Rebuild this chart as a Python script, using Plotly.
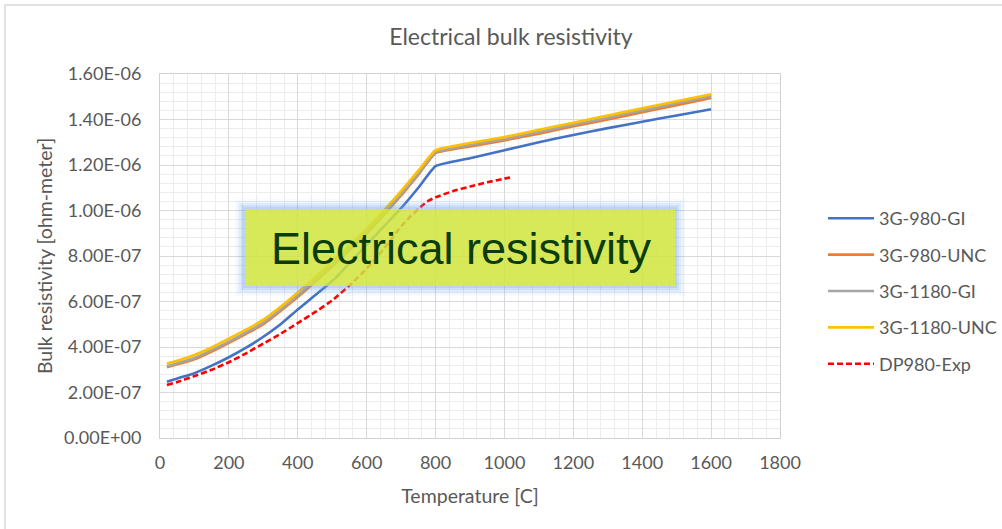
import numpy as np
import plotly.graph_objects as go

# ---------------- data (resistivity in micro-ohm-meter, converted below) ----------------
temp_main = [20, 50, 100, 150, 200, 250, 300, 350, 400, 450, 500, 550, 600, 650, 700, 750, 800,
             900, 1000, 1100, 1200, 1300, 1400, 1500, 1600]
g980_gi = [0.247, 0.262, 0.285, 0.318, 0.355, 0.397, 0.445, 0.500, 0.565, 0.627, 0.690, 0.768, 0.850, 0.930, 1.010, 1.100, 1.195,
           1.230, 1.265, 1.300, 1.332, 1.362, 1.390, 1.418, 1.445]
g980_unc = [0.311, 0.324, 0.346, 0.380, 0.418, 0.458, 0.500, 0.558, 0.620, 0.686, 0.755, 0.826, 0.900, 0.981, 1.066, 1.158, 1.252,
            1.282, 1.308, 1.338, 1.370, 1.400, 1.432, 1.463, 1.495]
g1180_gi = [0.315, 0.329, 0.352, 0.386, 0.424, 0.464, 0.507, 0.565, 0.627, 0.693, 0.762, 0.832, 0.907, 0.988, 1.072, 1.163, 1.256,
            1.288, 1.314, 1.345, 1.377, 1.408, 1.440, 1.471, 1.502]
g1180_unc = [0.327, 0.340, 0.365, 0.398, 0.437, 0.476, 0.520, 0.577, 0.640, 0.705, 0.775, 0.845, 0.920, 1.000, 1.085, 1.175, 1.265,
             1.297, 1.323, 1.355, 1.386, 1.418, 1.449, 1.480, 1.511]
temp_exp = [20, 50, 100, 150, 200, 250, 300, 350, 400, 450, 500, 550, 600, 650, 700, 730, 760, 780, 800,
            850, 900, 950, 1000, 1025]
dp980_exp = [0.233, 0.246, 0.272, 0.300, 0.333, 0.372, 0.415, 0.458, 0.505, 0.553, 0.605, 0.670, 0.745, 0.832, 0.930, 0.978,
             1.020, 1.043, 1.058, 1.085, 1.105, 1.124, 1.140, 1.148]

series_names = ["3G-980-GI", "3G-980-UNC", "3G-1180-GI", "3G-1180-UNC", "DP980-Exp"]
series_colors = ["#4472C4", "#ED7D31", "#A5A5A5", "#FFC000", "#FF0000"]

x_ticks = [0, 200, 400, 600, 800, 1000, 1200, 1400, 1600, 1800]
y_ticks = [0.0, 0.2e-6, 0.4e-6, 0.6e-6, 0.8e-6, 1.0e-6, 1.2e-6, 1.4e-6, 1.6e-6]
y_tick_text = [f"{v:.2E}" for v in y_ticks]

title_text = "Electrical bulk resistivity"
x_title = "Temperature [C]"
y_title = "Bulk resistivity [ohm-meter]"
callout_text = "Electrical resistivity"

SCALE = 1e-6

# ---------------- layout geometry ----------------
W, H = 1002, 529
L, R, T, B = 160, 780, 74, 438   # plot area in pixels


def px_x(p):
    return (p - L) / (R - L)


def px_y(p):
    return (B - p) / (B - T)


FONT = "Lato, 'Open Sans', sans-serif"
TXT = "#595959"

fig = go.Figure()
ys = [g980_gi, g980_unc, g1180_gi, g1180_unc]
for i, yv in enumerate(ys):
    fig.add_trace(go.Scatter(
        x=temp_main, y=np.array(yv) * SCALE, mode="lines",
        name=series_names[i], legendgroup=series_names[i],
        line=dict(color=series_colors[i], width=2.6, shape="spline", smoothing=0.4),
    ))
fig.add_trace(go.Scatter(
    x=temp_exp, y=np.array(dp980_exp) * SCALE, mode="lines",
    name=series_names[4], legendgroup=series_names[4],
    line=dict(color=series_colors[4], width=2.6, dash="6px,3px", shape="spline", smoothing=0.4),
))

shapes = []
# outer chart frame
shapes.append(dict(type="rect", xref="paper", yref="paper",
                   x0=px_x(5), x1=px_x(1010), y0=px_y(540), y1=px_y(5),
                   line=dict(color="#d9d9d9", width=1.5), fillcolor="rgba(0,0,0,0)", layer="below"))

# callout box glow
bx0, bx1, by0, by1 = 245, 675, 209, 286
for k, a in enumerate([0.45, 0.32, 0.2, 0.11, 0.05]):
    d = 1 + 2 * k
    shapes.append(dict(type="rect", xref="paper", yref="paper",
                       x0=px_x(bx0 - d), x1=px_x(bx1 + d), y0=px_y(by1 + d), y1=px_y(by0 - d),
                       line=dict(color=f"rgba(100,160,235,{a})", width=2), fillcolor="rgba(0,0,0,0)"))
shapes.append(dict(type="rect", xref="paper", yref="paper",
                   x0=px_x(bx0), x1=px_x(bx1), y0=px_y(by1), y1=px_y(by0),
                   line=dict(width=0), fillcolor="rgba(208,228,62,0.86)"))

annotations = [
    dict(text=callout_text, xref="paper", yref="paper", x=px_x(461), y=px_y(249),
         xanchor="center", yanchor="middle", showarrow=False,
         font=dict(family="'Liberation Sans', Arial, sans-serif", size=45, color="#0b3d0b")),
]

fig.update_layout(
    width=W, height=H,
    margin=dict(l=L, r=W - R, t=T, b=H - B, autoexpand=False),
    paper_bgcolor="white", plot_bgcolor="white",
    title=dict(text=title_text, x=(511) / W, xanchor="center", y=1 - 37 / H, yanchor="middle",
               font=dict(family=FONT, size=23, color=TXT)),
    font=dict(family=FONT, color=TXT),
    xaxis=dict(range=[0, 1800], tickvals=x_ticks, ticktext=[str(v) for v in x_ticks],
               showgrid=True, gridcolor="#d9d9d9", gridwidth=1,
               minor=dict(dtick=40, showgrid=True, gridcolor="#ececec", gridwidth=1),
               showline=True, linecolor="#d0d0d0", mirror=True, zeroline=False,
               ticks="", ticklabelstandoff=8,
               tickfont=dict(family=FONT, size=18, color=TXT),
               title=dict(text=x_title, font=dict(family=FONT, size=19.5, color=TXT), standoff=17)),
    yaxis=dict(range=[0, 1.6e-6], tickvals=y_ticks, ticktext=y_tick_text,
               showgrid=True, gridcolor="#d9d9d9", gridwidth=1,
               minor=dict(dtick=0.04e-6, showgrid=True, gridcolor="#ececec", gridwidth=1),
               showline=True, linecolor="#d0d0d0", mirror=True, zeroline=False,
               ticks="", ticklabelstandoff=14,
               tickfont=dict(family=FONT, size=18, color=TXT),
               title=dict(text=y_title, font=dict(family=FONT, size=19.5, color=TXT), standoff=6)),
    legend=dict(x=px_x(823), y=px_y(200), xanchor="left", yanchor="top",
                font=dict(family=FONT, size=18, color=TXT),
                tracegroupgap=10, bgcolor="rgba(0,0,0,0)", itemwidth=46),
    shapes=shapes,
    annotations=annotations,
    showlegend=True,
)

fig.write_html("out.html")
